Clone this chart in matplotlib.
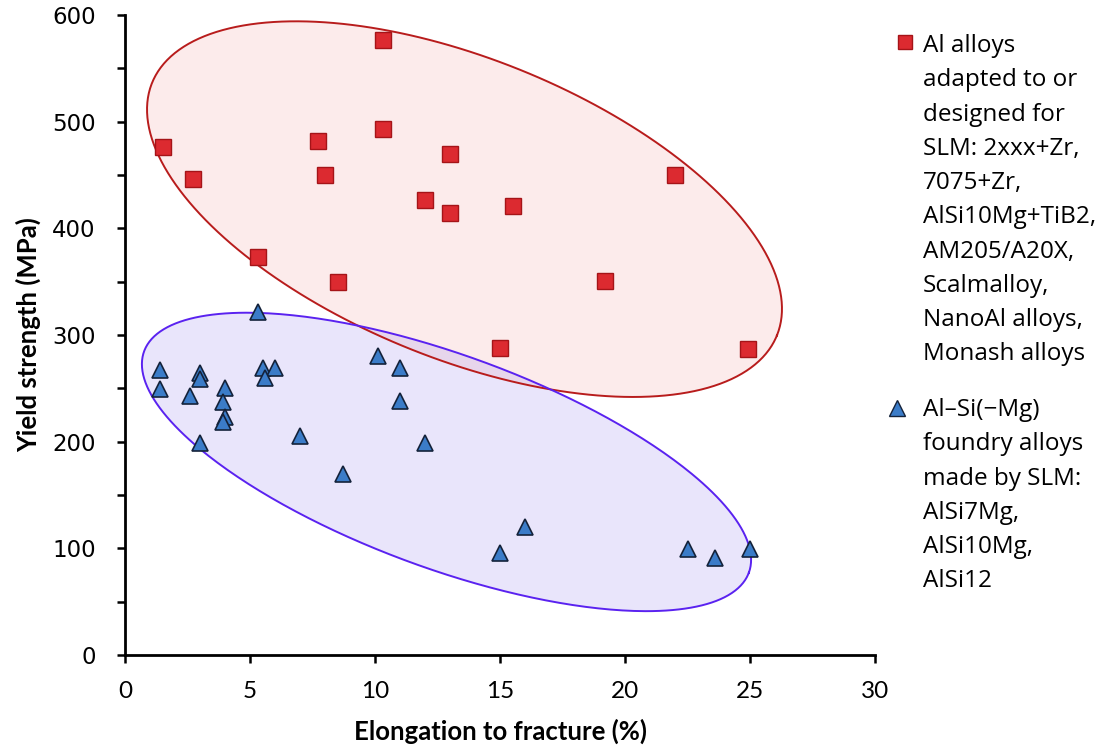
import numpy as np
import matplotlib
matplotlib.use("Agg")
import matplotlib.pyplot as plt
from matplotlib.lines import Line2D

# ---- data ----
red_elong = [1.5, 2.7, 7.7, 8.0, 10.3, 10.3, 5.3, 8.5, 12.0, 13.0, 13.0, 15.5, 15.0, 19.2, 22.0, 24.9]
red_ys    = [476, 446, 482, 450, 577, 493, 373, 350, 427, 470, 414, 421, 288, 351, 450, 287]

blue_elong = [5.3, 1.4, 1.4, 3.0, 3.0, 2.6, 4.0, 3.9, 4.0, 3.9, 3.0, 5.5, 6.0, 5.6,
              10.1, 11.0, 11.0, 7.0, 12.0, 8.7, 15.0, 16.0, 22.5, 23.6, 25.0]
blue_ys    = [322, 267, 249, 264, 259, 243, 250, 237, 223, 218, 199, 269, 269, 260,
              280, 269, 238, 205, 199, 170, 96, 120, 99, 91, 99]

red_label = ("Al alloys\nadapted to or\ndesigned for\nSLM: 2xxx+Zr,\n7075+Zr,\n"
             "AlSi10Mg+TiB2,\nAM205/A20X,\nScalmalloy,\nNanoAl alloys,\nMonash alloys")
blue_label = "Al\u2013Si(\u2212Mg)\nfoundry alloys\nmade by SLM:\nAlSi7Mg,\nAlSi10Mg,\nAlSi12"

x_ticks = [0, 5, 10, 15, 20, 25, 30]
y_ticks = [0, 100, 200, 300, 400, 500, 600]

# ellipse outlines (center in data units, semi-axes in screen px, tilt deg)
red_ell = dict(cx=13.58, cy=418, a=337, b=150, tilt=22.0)
blue_ell = dict(cx=12.86, cy=181, a=322, b=106.6, tilt=20.1)

W, H = 1107, 747
fig = plt.figure(figsize=(W / 100, H / 100), dpi=100)
ax = fig.add_axes([125 / W, (H - 655) / H, 750 / W, 640 / H])
ax.set_xlim(0, 30)
ax.set_ylim(0, 600)

px_x = 30 / 750.0
px_y = 600 / 640.0


def ell(cx, cy, a, b, tilt):
    t = np.linspace(0, 2 * np.pi, 400)
    th = np.deg2rad(-tilt)
    dx = a * np.cos(t) * np.cos(th) - b * np.sin(t) * np.sin(th)
    dy = a * np.cos(t) * np.sin(th) + b * np.sin(t) * np.cos(th)
    return cx + dx * px_x, cy + dy * px_y


xr, yr = ell(**red_ell)
ax.fill(xr, yr, facecolor=(0.97, 0.74, 0.74, 0.30), edgecolor="none", zorder=1)
xb, yb = ell(**blue_ell)
ax.fill(xb, yb, facecolor=(0.70, 0.64, 0.95, 0.28), edgecolor="none", zorder=1)
ax.plot(xr, yr, color="#b81c1c", lw=1.4, zorder=2)
ax.plot(xb, yb, color="#5a22f0", lw=1.4, zorder=2)

ax.plot(red_elong, red_ys, linestyle="none", marker="s", ms=11,
        markerfacecolor="#dc2a30", markeredgecolor="#a51418", markeredgewidth=1.0, zorder=4)
ax.plot(blue_elong, blue_ys, linestyle="none", marker="^", ms=12,
        markerfacecolor="#3b7cc8", markeredgecolor="#14223a", markeredgewidth=1.2, zorder=4)

for s in ["top", "right"]:
    ax.spines[s].set_visible(False)
for s in ["left", "bottom"]:
    ax.spines[s].set_linewidth(2.0)

ax.set_xticks(x_ticks)
ax.set_yticks(y_ticks)
ax.set_yticks(np.arange(50, 600, 100), minor=True)
ax.tick_params(axis="both", which="both", direction="out", width=1.8, length=6)
ax.tick_params(axis="y", which="major", pad=15, labelsize=16.5)
ax.tick_params(axis="x", which="major", pad=13, labelsize=17.5)
for lab in ax.get_yticklabels():
    lab.set_fontfamily("DejaVu Sans")
for lab in ax.get_xticklabels():
    lab.set_fontfamily("Lato")

ax.set_xlabel("Elongation to fracture (%)", fontsize=18.5, fontweight="bold", family="Lato", labelpad=12)
ax.set_ylabel("Yield strength (MPa)", fontsize=18.5, fontweight="bold", family="Lato", labelpad=8)

# legend (manual)
fig.text(923 / W, 1 - 34 / H, red_label, fontsize=17.5, family="Open Sans", va="top", ha="left",
         linespacing=1.57)
fig.text(923 / W, 1 - 398 / H, blue_label, fontsize=17.5, family="Open Sans", va="top", ha="left",
         linespacing=1.57)
fig.add_artist(Line2D([905 / W], [1 - 42 / H], marker="s", ms=10.5, linestyle="none",
                      markerfacecolor="#dc2a30", markeredgecolor="#a51418", transform=fig.transFigure))
fig.add_artist(Line2D([897 / W], [1 - 408 / H], marker="^", ms=11.5, linestyle="none",
                      markerfacecolor="#3b7cc8", markeredgecolor="#14223a", transform=fig.transFigure))

fig.savefig("out.png", dpi=100)
